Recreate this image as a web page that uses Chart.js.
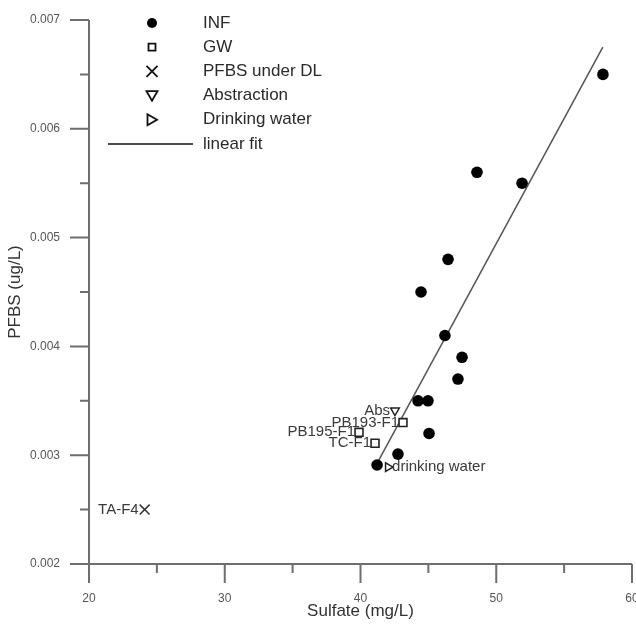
<!DOCTYPE html>
<html>
<head>
<meta charset="utf-8">
<script src="https://cdn.jsdelivr.net/npm/chart.js@4"></script>
<style>
  html, body { margin: 0; padding: 0; background: #fff; }
  #wrap { width: 636px; height: 625px; }
</style>
</head>
<body>
<div id="wrap"><canvas id="pfbsChart" width="636" height="625"></canvas></div>
<script>
const FONT = "'Liberation Sans', Arial, sans-serif";

// INF samples (sulfate mg/L, PFBS ug/L)
const infSulfate = [57.86, 48.58, 51.90, 46.45, 44.46, 46.22, 47.48, 47.18, 44.24, 44.97, 45.05, 42.76, 41.22];
const infPfbs = [0.00650, 0.00560, 0.00550, 0.00480, 0.00450, 0.00410, 0.00390, 0.00370, 0.00350, 0.00350, 0.00320, 0.00301, 0.00291];

// groundwater wells
const gwSulfate = [43.13, 39.89, 41.07];
const gwPfbs = [0.00330, 0.00321, 0.00311];
const gwNames = ['PB193-F1', 'PB195-F1', 'TC-F1'];

// PFBS below detection limit
const dlSulfate = [24.1];
const dlPfbs = [0.0025];
const dlNames = ['TA-F4'];

const absSulfate = [42.54];
const absPfbs = [0.00341];
const absNames = ['Abs'];

const dwSulfate = [42.03];
const dwPfbs = [0.00289];
const dwNames = ['drinking water'];

// fitted line end points
const fitSulfate = [41.2, 57.85];
const fitPfbs = [0.00292, 0.00675];

const xMajor = [20, 30, 40, 50, 60];
const xMinor = [25, 35, 45, 55];
const yMajor = [0.002, 0.003, 0.004, 0.005, 0.006, 0.007];
const yMinor = [0.0025, 0.0035, 0.0045, 0.0055, 0.0065];

function pts(xs, ys) {
  return xs.map((x, i) => ({ x: x, y: ys[i] }));
}

// axis lines + major/minor tick marks
const axesPlugin = {
  id: 'axesPlugin',
  beforeDatasetsDraw(chart) {
    const { ctx, scales: { x, y } } = chart;
    const x0 = x.getPixelForValue(xMajor[0]);
    const yb = y.getPixelForValue(yMajor[0]);
    ctx.save();
    ctx.strokeStyle = '#6e6e6e';
    ctx.lineWidth = 2;
    ctx.beginPath();
    ctx.moveTo(x0, y.getPixelForValue(yMajor[yMajor.length - 1]));
    ctx.lineTo(x0, yb);
    ctx.lineTo(x.getPixelForValue(xMajor[xMajor.length - 1]), yb);
    xMajor.forEach(v => { const px = x.getPixelForValue(v); ctx.moveTo(px, yb); ctx.lineTo(px, yb + 19); });
    xMinor.forEach(v => { const px = x.getPixelForValue(v); ctx.moveTo(px, yb); ctx.lineTo(px, yb + 9); });
    yMajor.forEach(v => { const py = y.getPixelForValue(v); ctx.moveTo(x0 - 19, py); ctx.lineTo(x0, py); });
    yMinor.forEach(v => { const py = y.getPixelForValue(v); ctx.moveTo(x0 - 9, py); ctx.lineTo(x0, py); });
    ctx.stroke();
    ctx.restore();
  }
};

// sample names next to the points
const namesPlugin = {
  id: 'namesPlugin',
  afterDatasetsDraw(chart) {
    const ctx = chart.ctx;
    ctx.save();
    ctx.font = '15px ' + FONT;
    ctx.fillStyle = '#3a3a3a';
    ctx.textBaseline = 'middle';
    chart.data.datasets.forEach((ds, di) => {
      if (!ds.names) return;
      chart.getDatasetMeta(di).data.forEach((pt, i) => {
        if (ds.nameSide === 'right') {
          ctx.textAlign = 'left';
          ctx.fillText(ds.names[i], pt.x + ds.nameGap, pt.y);
        } else {
          ctx.textAlign = 'right';
          ctx.fillText(ds.names[i], pt.x - ds.nameGap, pt.y);
        }
      });
    });
    ctx.restore();
  }
};

function drawSymbol(ctx, kind, cx, cy) {
  ctx.beginPath();
  if (kind === 'circle') {
    ctx.arc(cx, cy, 5, 0, Math.PI * 2);
    ctx.fill();
    return;
  }
  if (kind === 'square') {
    ctx.rect(cx - 3.5, cy - 3.5, 7, 7);
  } else if (kind === 'cross') {
    ctx.moveTo(cx - 5.5, cy - 5.5); ctx.lineTo(cx + 5.5, cy + 5.5);
    ctx.moveTo(cx + 5.5, cy - 5.5); ctx.lineTo(cx - 5.5, cy + 5.5);
  } else if (kind === 'down') {
    ctx.moveTo(cx - 5.5, cy - 4.5); ctx.lineTo(cx + 5.5, cy - 4.5); ctx.lineTo(cx, cy + 5); ctx.closePath();
  } else if (kind === 'right') {
    ctx.moveTo(cx - 4.5, cy - 5.5); ctx.lineTo(cx - 4.5, cy + 5.5); ctx.lineTo(cx + 5, cy); ctx.closePath();
  } else if (kind === 'line') {
    ctx.moveTo(108, cy); ctx.lineTo(193, cy);
  }
  ctx.stroke();
}

const legendPlugin = {
  id: 'legendPlugin',
  afterDraw(chart) {
    const ctx = chart.ctx;
    ctx.save();
    ctx.font = '17px ' + FONT;
    ctx.textBaseline = 'middle';
    ctx.textAlign = 'left';
    chart.data.datasets.forEach((ds, i) => {
      const cy = 23 + i * 24.2;
      ctx.fillStyle = '#000';
      ctx.strokeStyle = '#111';
      ctx.lineWidth = ds.legendShape === 'line' ? 1.5 : 1.8;
      drawSymbol(ctx, ds.legendShape, 152, cy);
      ctx.fillStyle = '#2a2a2a';
      ctx.fillText(ds.label, 203, cy);
    });
    ctx.restore();
  }
};

new Chart(document.getElementById('pfbsChart'), {
  type: 'scatter',
  data: {
    datasets: [
      {
        label: 'INF', legendShape: 'circle',
        data: pts(infSulfate, infPfbs),
        pointStyle: 'circle', pointRadius: 5.8,
        pointBackgroundColor: '#000', pointBorderColor: '#000', pointBorderWidth: 0
      },
      {
        label: 'GW', legendShape: 'square',
        data: pts(gwSulfate, gwPfbs),
        names: gwNames, nameSide: 'left', nameGap: 4,
        pointStyle: 'rect', pointRadius: 5.6,
        pointBackgroundColor: '#fff', pointBorderColor: '#222', pointBorderWidth: 1.6
      },
      {
        label: 'PFBS under DL', legendShape: 'cross',
        data: pts(dlSulfate, dlPfbs),
        names: dlNames, nameSide: 'left', nameGap: 6,
        pointStyle: 'crossRot', pointRadius: 7,
        pointBorderColor: '#333', pointBorderWidth: 1.5
      },
      {
        label: 'Abstraction', legendShape: 'down',
        data: pts(absSulfate, absPfbs),
        names: absNames, nameSide: 'left', nameGap: 5,
        pointStyle: 'triangle', pointRotation: 180, pointRadius: 5,
        pointBackgroundColor: '#fff', pointBorderColor: '#222', pointBorderWidth: 1.5
      },
      {
        label: 'Drinking water', legendShape: 'right',
        data: pts(dwSulfate, dwPfbs),
        names: dwNames, nameSide: 'right', nameGap: 4,
        pointStyle: 'triangle', pointRotation: 90, pointRadius: 5,
        pointBackgroundColor: '#fff', pointBorderColor: '#222', pointBorderWidth: 1.5
      },
      {
        label: 'linear fit', legendShape: 'line',
        data: pts(fitSulfate, fitPfbs),
        showLine: true, pointRadius: 0,
        borderColor: '#555', borderWidth: 1.5
      }
    ]
  },
  options: {
    responsive: false,
    animation: false,
    devicePixelRatio: 1,
    layout: { autoPadding: false, padding: { top: 20, right: 4, left: 0, bottom: 0 } },
    plugins: {
      legend: { display: false },
      tooltip: { enabled: false }
    },
    scales: {
      x: {
        type: 'linear', min: 20, max: 60,
        afterBuildTicks: s => { s.ticks = xMajor.map(v => ({ value: v })); },
        afterFit: s => { s.height = 61; s.paddingLeft = 0; s.paddingRight = 0; },
        grid: { display: false, drawTicks: false },
        border: { display: false },
        ticks: { padding: 27, color: '#555', font: { family: FONT, size: 12 } },
        title: {
          display: true, text: 'Sulfate (mg/L)', color: '#333',
          font: { family: FONT, size: 17 }, padding: { top: 0, bottom: 3 }
        }
      },
      y: {
        type: 'linear', min: 0.002, max: 0.007,
        afterBuildTicks: s => { s.ticks = yMajor.map(v => ({ value: v })); },
        afterFit: s => { s.width = 89; s.paddingTop = 0; s.paddingBottom = 0; },
        grid: { display: false, drawTicks: false },
        border: { display: false },
        ticks: {
          padding: 29, color: '#555', font: { family: FONT, size: 12 },
          callback: v => v.toFixed(3)
        },
        title: {
          display: true, text: 'PFBS (ug/L)', color: '#333',
          font: { family: FONT, size: 17 }, padding: { top: 5, bottom: 0 }
        }
      }
    }
  },
  plugins: [axesPlugin, namesPlugin, legendPlugin]
});
</script>
</body>
</html>
